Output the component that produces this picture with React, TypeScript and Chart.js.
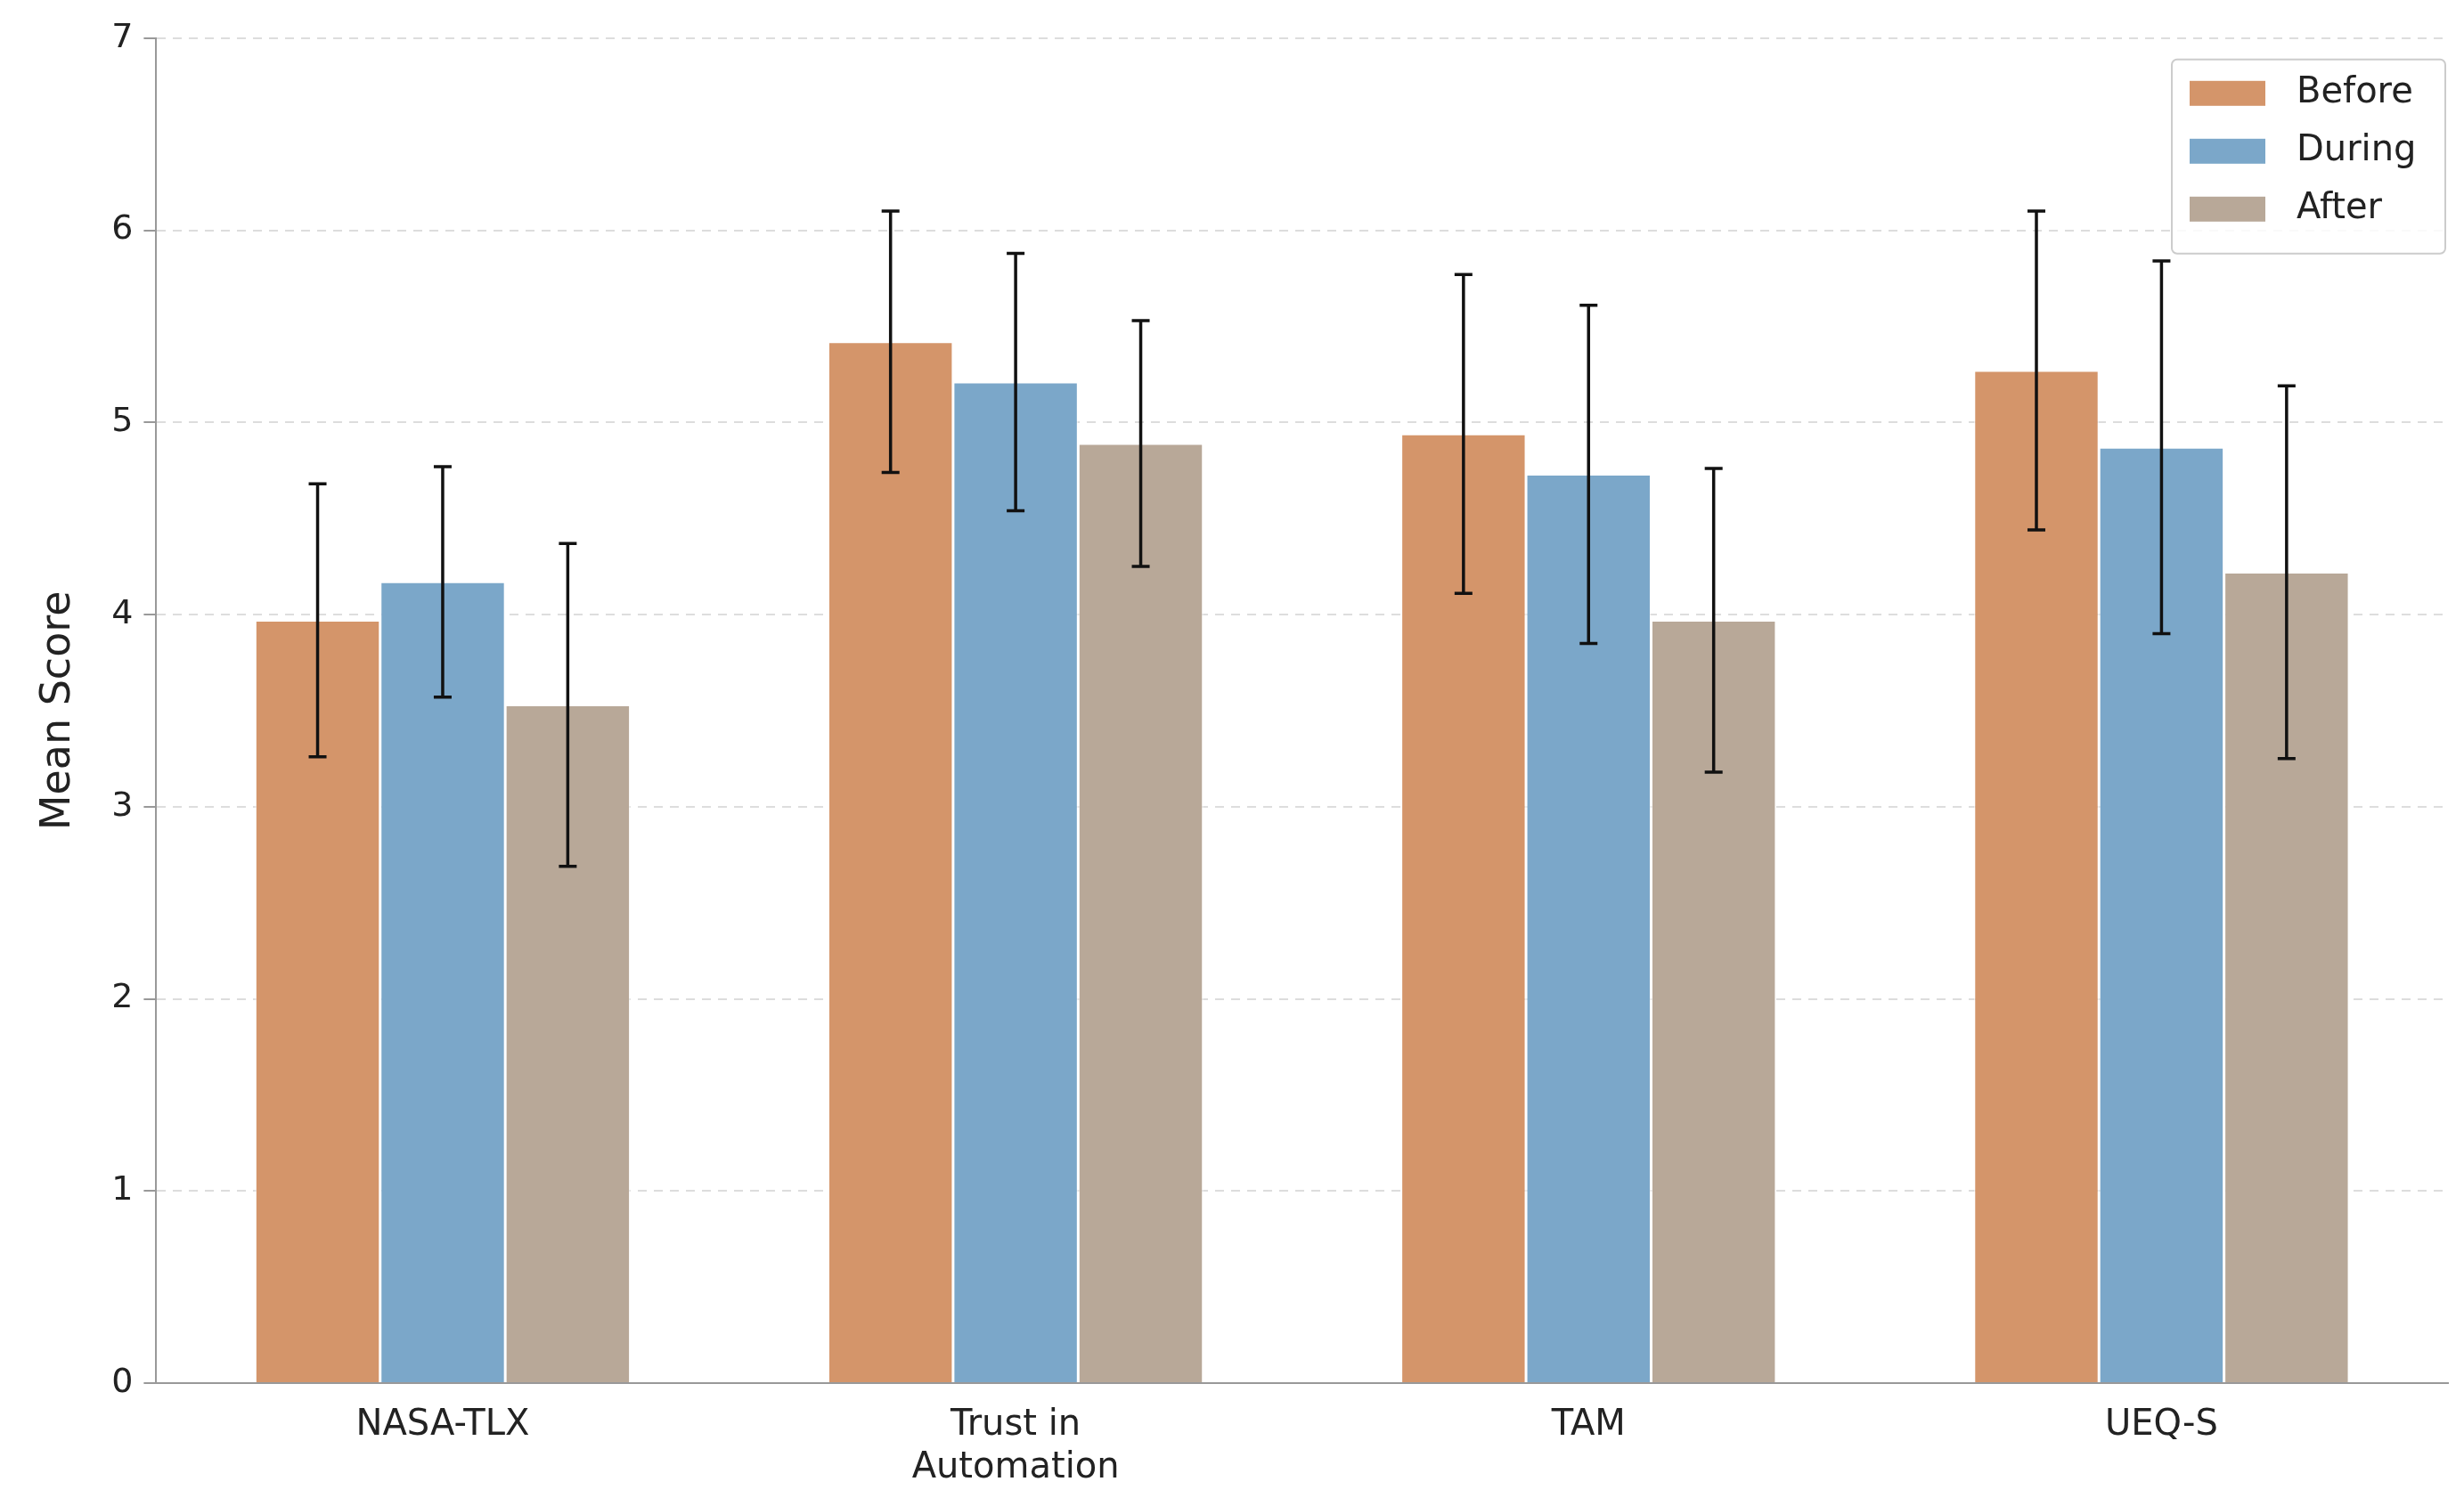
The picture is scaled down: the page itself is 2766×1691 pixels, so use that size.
import React, { useEffect, useRef } from "react";
import { Chart, registerables } from "chart.js";
Chart.register(...registerables);

const categories: (string | string[])[] = ["NASA-TLX", ["Trust in", "Automation"], "TAM", "UEQ-S"];
const seriesNames = ["Before", "During", "After"];
const seriesColors = ["#D4956A", "#7BA7C9", "#B8A898"];
const beforeVals = [3.97, 5.42, 4.94, 5.27];
const duringVals = [4.17, 5.21, 4.73, 4.87];
const afterVals = [3.53, 4.89, 3.97, 4.22];
const beforeErr = [0.71, 0.68, 0.83, 0.83];
const duringErr = [0.6, 0.67, 0.88, 0.97];
const afterErr = [0.84, 0.64, 0.79, 0.97];
const yTicks = [0, 1, 2, 3, 4, 5, 6, 7];

const FONT = "'DejaVu Sans', sans-serif";

export default function App() {
  const ref = useRef<HTMLCanvasElement>(null);
  useEffect(() => {
    const vals = [beforeVals, duringVals, afterVals];
    const errs = [beforeErr, duringErr, afterErr];
    const errPlugin = {
      id: "errs",
      afterDatasetsDraw(chart: any) {
        const ctx = chart.ctx;
        const y = chart.scales.y;
        ctx.save();
        ctx.strokeStyle = "#111";
        ctx.lineWidth = 3.5;
        vals.forEach((arr, di) => {
          const meta = chart.getDatasetMeta(di);
          arr.forEach((v, i) => {
            const x = meta.data[i].x;
            const t = y.getPixelForValue(v + errs[di][i]);
            const b = y.getPixelForValue(v - errs[di][i]);
            ctx.beginPath();
            ctx.moveTo(x, t); ctx.lineTo(x, b);
            ctx.moveTo(x - 10, t); ctx.lineTo(x + 10, t);
            ctx.moveTo(x - 10, b); ctx.lineTo(x + 10, b);
            ctx.stroke();
          });
        });
        // legend
        const ca = chart.chartArea;
        const w = 307, h = 218;
        const lx = ca.right - w - 3, ly = ca.top + 24;
        ctx.fillStyle = "rgba(255,255,255,0.85)";
        ctx.strokeStyle = "#ccc";
        ctx.lineWidth = 2;
        ctx.beginPath();
        ctx.roundRect(lx, ly, w, h, 6);
        ctx.fill(); ctx.stroke();
        ctx.font = `40px ${FONT}`;
        ctx.textBaseline = "middle";
        seriesNames.forEach((n, i) => {
          const cy = ly + 38 + i * 65;
          ctx.fillStyle = seriesColors[i];
          ctx.fillRect(lx + 20, cy - 14, 85, 28);
          ctx.fillStyle = "#222";
          ctx.fillText(n, lx + 140, cy);
        });
        ctx.restore();
      },
    };
    const chart = new Chart(ref.current!, {
      type: "bar",
      data: {
        labels: categories as any,
        datasets: vals.map((d, i) => ({
          label: seriesNames[i],
          data: d,
          backgroundColor: seriesColors[i],
          borderColor: "rgba(255,255,255,0.6)",
          borderWidth: 1.5,
          barPercentage: 1,
          categoryPercentage: 0.655,
        })),
      },
      options: {
        animation: false,
        responsive: false,
        devicePixelRatio: 1,
        layout: { padding: { top: 30, right: 10, left: 10, bottom: 0 } },
        plugins: { legend: { display: false }, tooltip: { enabled: false } },
        scales: {
          x: {
            grid: { display: false, drawTicks: true, tickLength: 14 },
            border: { color: "#999", width: 2 },
            ticks: { font: { family: FONT, size: 40 }, color: "#222", padding: 10 },
          },
          y: {
            min: 0,
            max: 7,
            afterBuildTicks: (s: any) => { s.ticks = yTicks.map((v) => ({ value: v })); },
            grid: { color: "#ddd", lineWidth: 2, tickLength: 14, tickColor: "#999" },
            border: { color: "#999", width: 2, dash: [] },
            ticks: { font: { family: FONT, size: 38 }, color: "#222", padding: 12 },
            title: { display: true, text: "Mean Score", font: { family: FONT, size: 46 }, color: "#222", padding: 20 },
          },
        },
      } as any,
      plugins: [errPlugin],
    });
    // dashed y grid
    (chart.options.scales as any).y.grid.borderDash = [10, 8];
    (chart.options.scales as any).y.border.dash = [10, 8];
    chart.update();
    return () => chart.destroy();
  }, []);
  return (
    <div style={{ width: 2750, height: 1675, background: "#fff" }}>
      <canvas ref={ref} width={2750} height={1675} />
    </div>
  );
}
